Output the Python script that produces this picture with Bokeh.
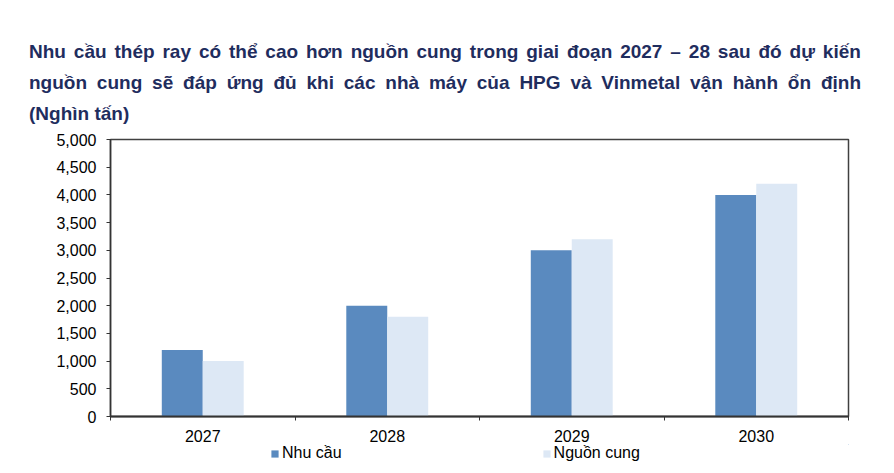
from bokeh.plotting import figure
from bokeh.models import (ColumnDataSource, FixedTicker, NumeralTickFormatter,
                          Legend, LegendItem, Div, Range1d)
from bokeh.layouts import column
from bokeh.transform import dodge
from bokeh.embed import file_html
from bokeh.resources import INLINE

years = ["2027", "2028", "2029", "2030"]
demand = [1200, 2000, 3000, 4000]
supply = [1000, 1800, 3200, 4200]
series_names = ["Nhu cầu", "Nguồn cung"]
y_ticks = [0, 500, 1000, 1500, 2000, 2500, 3000, 3500, 4000, 4500, 5000]
title_lines = [
    "Nhu cầu thép ray có thể cao hơn nguồn cung trong giai đoạn 2027 – 28 sau đó dự kiến",
    "nguồn cung sẽ đáp ứng đủ khi các nhà máy của HPG và Vinmetal vận hành ổn định",
    "(Nghìn tấn)",
]

DARK = "#5A8ABF"
LIGHT = "#DDE8F5"
TITLE_C = "#1F2D5E"
FONT = "Liberation Sans"

# ---- title (justified lines) ----
def line_html(text, justify):
    if justify:
        spans = "".join(f"<span>{w}</span>" for w in text.split(" "))
        return (f"<div style='display:flex;justify-content:space-between;"
                f"width:832px;height:31px;line-height:31px;white-space:nowrap'>{spans}</div>")
    return f"<div style='height:31px;line-height:31px;white-space:nowrap'>{text}</div>"

html = (f"<div style='padding-top:36px;padding-left:29px;font-family:\"{FONT}\";"
        f"font-weight:bold;font-size:19px;color:{TITLE_C}'>"
        + line_html(title_lines[0], True)
        + line_html(title_lines[1], True)
        + line_html(title_lines[2], False)
        + "</div>")
div = Div(text=html, width=886, height=128, margin=0)

# ---- chart ----
x_center = [i + 0.5 for i in range(len(years))]
bar_w = 0.222
src = ColumnDataSource(dict(xc=x_center, demand=demand, supply=supply))

p = figure(width=886, height=316, x_range=Range1d(0, len(years)), y_range=Range1d(0, 5000),
           output_backend="svg", toolbar_location=None,
           min_border_left=110, min_border_right=38, min_border_top=11, min_border_bottom=28,
           margin=0)

bar_kw = dict(width=bar_w, source=src, line_color=None)
p.vbar(x=dodge("xc", -bar_w / 2), top="demand", fill_color=DARK, **bar_kw)
p.vbar(x=dodge("xc", bar_w / 2), top="supply", fill_color=LIGHT, **bar_kw)

p.xgrid.visible = False
p.ygrid.visible = False
p.outline_line_color = "#404040"
p.outline_line_width = 1.5

xa = p.xaxis[0]
xa.ticker = FixedTicker(ticks=x_center, minor_ticks=list(range(len(years) + 1)))
xa.major_label_overrides = {x: y for x, y in zip(x_center, years)}
xa.major_tick_out = 0
xa.major_tick_in = 0
xa.minor_tick_out = 4
xa.minor_tick_in = 0
xa.minor_tick_line_color = "#333333"
xa.axis_line_width = 2
xa.axis_line_color = "#333333"
xa.major_label_standoff = 9
xa.major_label_text_font = FONT
xa.major_label_text_font_size = "16px"
xa.major_label_text_color = "black"

ya = p.yaxis[0]
ya.ticker = FixedTicker(ticks=y_ticks)
ya.formatter = NumeralTickFormatter(format="0,0")
ya.major_tick_out = 4
ya.major_tick_in = 0
ya.minor_tick_line_color = None
ya.axis_line_width = 1.5
ya.axis_line_color = "#333333"
ya.major_tick_line_color = "#333333"
ya.major_label_standoff = 10
ya.major_label_text_font = FONT
ya.major_label_text_font_size = "16px"
ya.major_label_text_color = "black"

# ---- legend strip (separate small figure holding the legend) ----
lf = figure(width=886, height=26, x_range=Range1d(-20, -10), y_range=Range1d(-20, -10),
            output_backend="svg", toolbar_location=None, x_axis_type=None, y_axis_type=None,
            min_border=0, min_border_left=0, min_border_right=0, min_border_top=0,
            min_border_bottom=0, margin=0)
lf.outline_line_color = None
lf.xgrid.visible = False
lf.ygrid.visible = False
l1 = lf.vbar(x=dodge("xc", -bar_w / 2), top="demand", fill_color=DARK, **bar_kw)
l2 = lf.vbar(x=dodge("xc", bar_w / 2), top="supply", fill_color=LIGHT, **bar_kw)

legend = Legend(items=[LegendItem(label=series_names[0], renderers=[l1]),
                       LegendItem(label=series_names[1], renderers=[l2])],
                orientation="horizontal", location=(160, 8),
                glyph_width=9, glyph_height=9, label_standoff=3, spacing=200,
                padding=0, margin=0, border_line_alpha=0, background_fill_alpha=0,
                label_text_font=FONT, label_text_font_size="16px", label_text_color="black")
lf.add_layout(legend, "center")

layout = column(div, p, lf, margin=0, spacing=0)
open("out.html", "w").write(file_html(layout, INLINE))
